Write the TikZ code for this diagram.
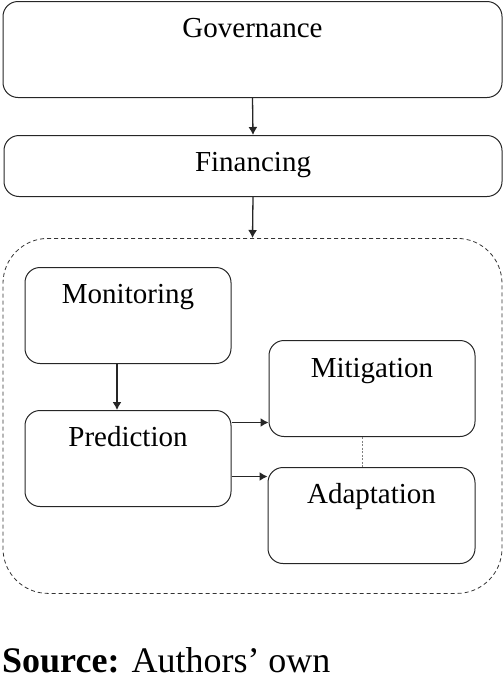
\documentclass[tikz,border=0pt]{standalone}
\usepackage{fontspec}
\setmainfont{Liberation Serif}[BoldFont={LiberationSerif-Bold}]
\usepackage{tikz}
\usetikzlibrary{arrows.meta}
\usetikzlibrary{positioning}
\tikzset{
  stagebox/.style={draw=black!85, line width=1pt, rounded corners=15pt, inner sep=0pt,
    anchor=north, font=\fontsize{29}{34}\selectfont},
  flow/.style={-{Latex[length=8pt,width=9pt]}, draw=black!85, line width=1.3pt},
}

\begin{document}
\begin{tikzpicture}[x=1pt, y=-1pt]
            \useasboundingbox (0,0) rectangle (503,683);
            \node [stagebox, minimum width=499pt, text height=36pt, text depth=60pt] (gov) at (252.5,1) {Governance};
            \node [stagebox, minimum width=498pt, text height=36pt, text depth=25pt] (fin) at (253,135) {Financing};
            \node [draw=black!80, line width=0.8pt, dash pattern=on 4pt off 3pt, rounded corners=45pt,
                minimum width=499pt, minimum height=355pt, anchor=north] (core) at (252.5,238) {};
            \node [stagebox, minimum width=206pt, text height=36pt, text depth=60pt] (mon) at (128,267) {Monitoring};
            \node [stagebox, minimum width=206pt, text height=36pt, text depth=60pt] (pre) at (128,410) {Prediction};
            \node [stagebox, minimum width=206pt, text height=37pt, text depth=59pt] (mit) at (372,340) {Mitigation};
            \node [stagebox, minimum width=207pt, text height=36pt, text depth=60pt] (ada) at (371.5,467) {Adaptation};
            \draw [flow] (gov.south)--(fin.north);
            \draw [flow] (fin.south)--(core.north);
            \draw [flow] ([xshift=-11pt]mon.south)--([xshift=-11pt]mon.south |- pre.north);
            \draw [flow] ([yshift=36pt]pre.east)--([yshift=36pt]pre.east -| mit.west);
            \draw [flow] ([yshift=-18pt]pre.east)--([yshift=-18pt]pre.east -| ada.west);
            \draw [gray, line width=1pt, dash pattern=on 2pt off 1.5pt] ([xshift=-10pt]mit.south)--([xshift=-10pt]mit.south |- ada.north);
            \node [anchor=base west, inner sep=0pt, font=\fontsize{36}{40}\selectfont] (src) at (2,672) {\textbf{Source:} Authors’ own};
        \end{tikzpicture}
\end{document}
